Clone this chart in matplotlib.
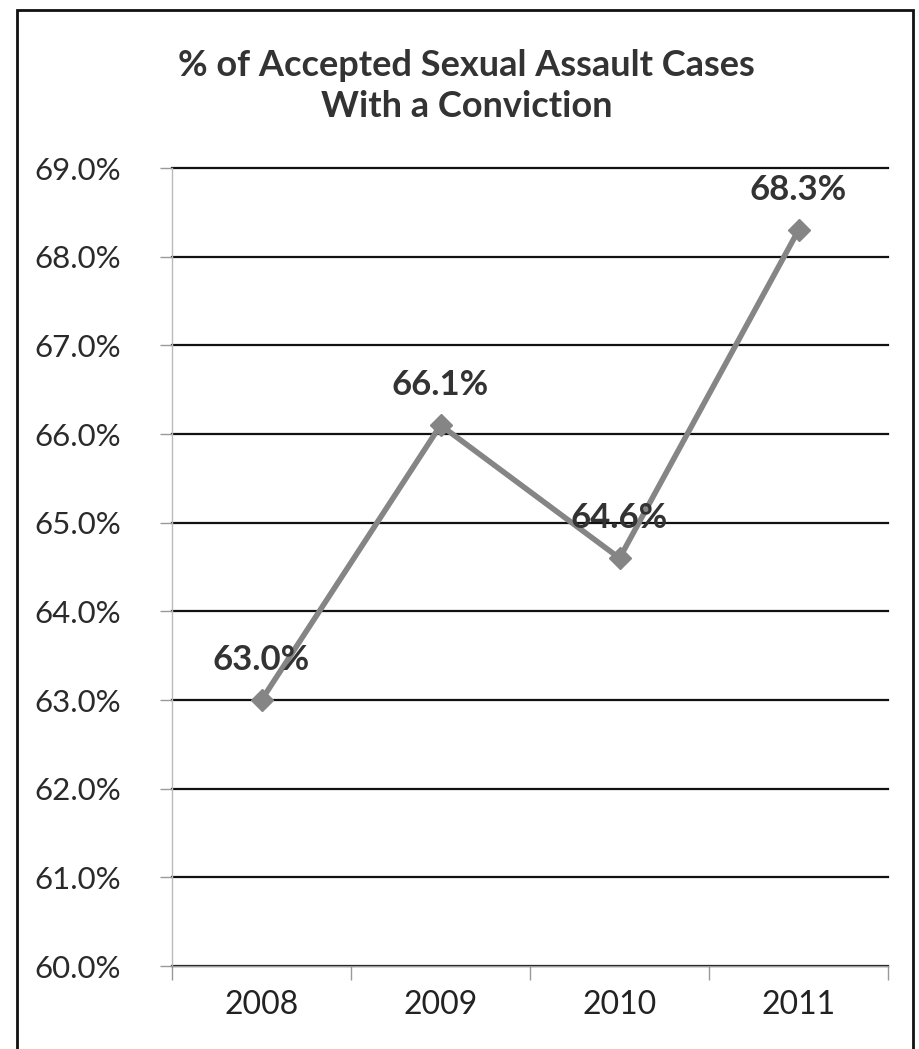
import matplotlib.pyplot as plt
from matplotlib.patches import Rectangle
from matplotlib.ticker import FixedLocator, FuncFormatter

years = ['2008', '2009', '2010', '2011']
conviction_pct = [63.0, 66.1, 64.6, 68.3]
y_ticks = [60, 61, 62, 63, 64, 65, 66, 67, 68, 69]

plt.rcParams['font.family'] = ['Lato', 'DejaVu Sans']

fig = plt.figure(figsize=(9.19, 10.49), dpi=100)
ax = fig.add_axes([0.1872, 0.0791, 0.7791, 0.7607])

x = list(range(len(years)))
ax.plot(x, conviction_pct, color='#858585', linewidth=4,
        marker='D', markersize=11, markerfacecolor='#858585',
        markeredgecolor='#858585', zorder=3)

for xi, v in zip(x, conviction_pct):
    ax.annotate(f'{v:.1f}%', (xi, v), xytext=(0, 29), textcoords='offset points',
                ha='center', va='center', fontsize=25, fontweight='bold',
                color='#333333', zorder=4)

ax.set_ylim(60, 69)
ax.set_xlim(-0.5, len(years) - 0.5)

ax.yaxis.set_major_locator(FixedLocator(y_ticks))
ax.yaxis.set_major_formatter(FuncFormatter(lambda v, p: f'{v:.1f}%'))
ax.grid(axis='y', color='#111111', linewidth=1.6, zorder=1)
for gl in ax.get_ygridlines():
    gl.set_clip_on(False)
ax.set_axisbelow(True)

ax.set_xticks(x)
ax.set_xticklabels(years)
ax.xaxis.set_minor_locator(FixedLocator([i - 0.5 for i in range(len(years) + 1)]))
ax.tick_params(axis='x', which='major', length=0, pad=17, labelsize=23,
               labelcolor='#222222')
ax.tick_params(axis='x', which='minor', length=10, width=1, color='#999999',
               direction='out')
ax.tick_params(axis='y', length=9, width=1, color='#999999', pad=28,
               labelsize=22.5, labelcolor='#2a2a2a')

for side in ['top', 'right']:
    ax.spines[side].set_visible(False)
ax.spines['left'].set_color('#bbbbbb')
ax.spines['bottom'].set_color('#999999')
ax.spines['left'].set_linewidth(1)
ax.spines['bottom'].set_linewidth(1)

fig.text(0.508, 0.918, '% of Accepted Sexual Assault Cases\nWith a Conviction',
         ha='center', va='center', fontsize=26, fontweight='bold',
         color='#333333', linespacing=1.3)

fig.patches.append(Rectangle((17 / 919, -0.1), (913 - 17) / 919, 1.1 - 10 / 1049,
                             transform=fig.transFigure, fill=False,
                             edgecolor='#111111', linewidth=2))

fig.savefig('out.png', dpi=100)
